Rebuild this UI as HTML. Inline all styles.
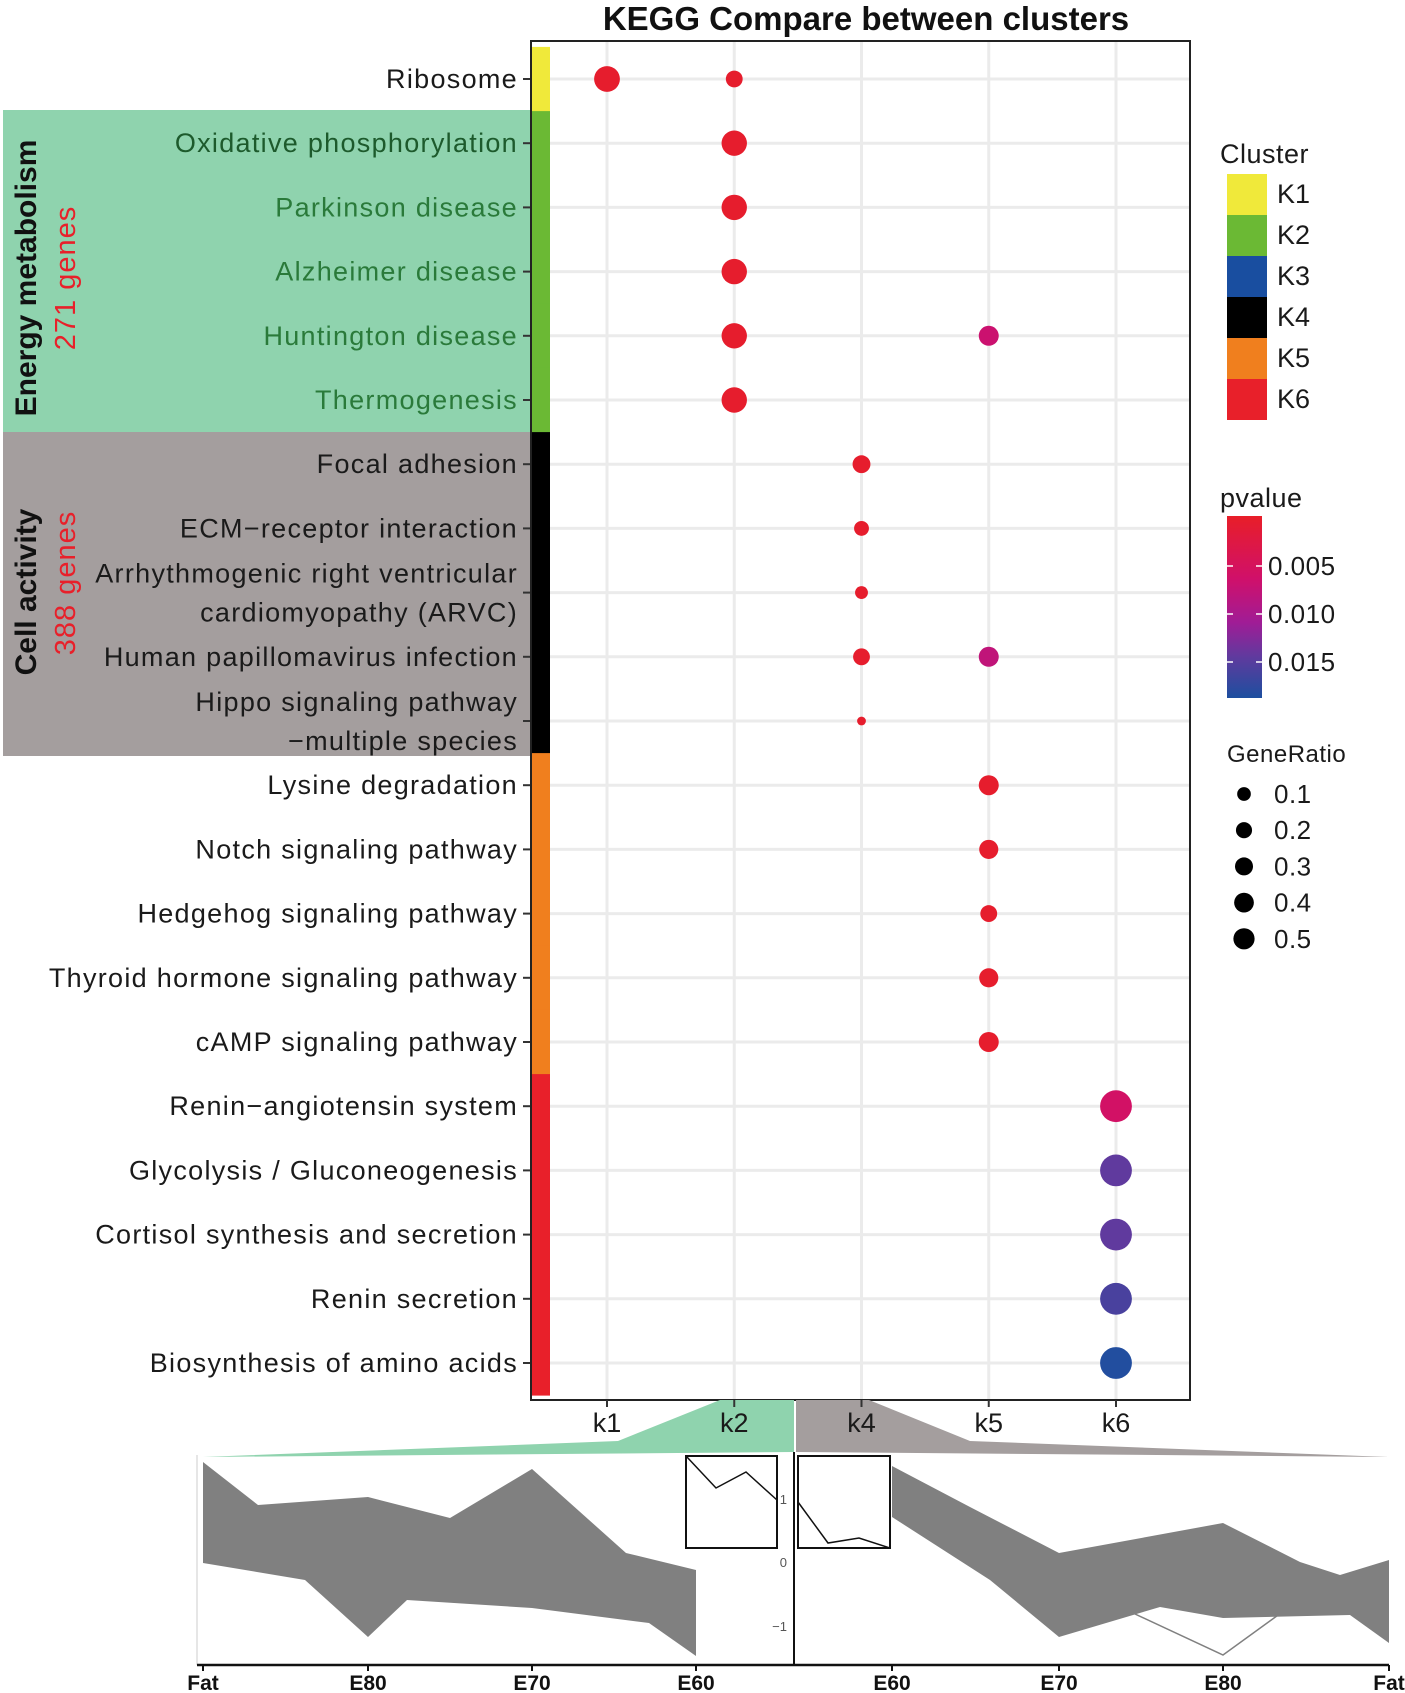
<!DOCTYPE html>
<html><head><meta charset="utf-8"><style>
html,body{margin:0;padding:0;background:#fff}
svg{display:block;font-family:"Liberation Sans","DejaVu Sans",sans-serif}
</style></head><body>
<svg id="c" width="1405" height="1693" viewBox="0 0 1405 1693">
<rect x="3" y="110" width="528" height="322" fill="#8fd3ae"/>
<rect x="3" y="432" width="528" height="324" fill="#a49e9e"/>
<text transform="translate(36,278) rotate(-90)" text-anchor="middle" font-size="30" font-weight="bold" fill="#111">Energy metabolism</text>
<text transform="translate(75,278) rotate(-90)" text-anchor="middle" font-size="29" letter-spacing="1" fill="#e8202a">271 genes</text>
<text transform="translate(36,592) rotate(-90)" text-anchor="middle" font-size="30" font-weight="bold" fill="#111">Cell activity</text>
<text transform="translate(75,583) rotate(-90)" text-anchor="middle" font-size="29" letter-spacing="1" fill="#e8202a">388 genes</text>
<text x="866" y="30" text-anchor="middle" font-size="33" font-weight="bold" fill="#111">KEGG Compare between clusters</text>
<g id="grid"></g><g id="strip"></g><g id="dots"></g><g id="ylabels"></g>
<rect x="531" y="41" width="659" height="1359" fill="none" stroke="#222" stroke-width="2"/>
<g id="legend"></g>
<g id="bottom"></g>
<g id="xlabels"></g>
</svg>
<script>
const NS="http://www.w3.org/2000/svg";
function mk(tag,attrs,parent,txt){const e=document.createElementNS(NS,tag);for(const k in attrs)e.setAttribute(k,attrs[k]);if(txt!==undefined)e.textContent=txt;parent.appendChild(e);return e;}
const pathways=["Ribosome","Oxidative phosphorylation","Parkinson disease","Alzheimer disease","Huntington disease","Thermogenesis","Focal adhesion","ECM\u2212receptor interaction","Arrhythmogenic right ventricular|cardiomyopathy (ARVC)","Human papillomavirus infection","Hippo signaling pathway|\u2212multiple species","Lysine degradation","Notch signaling pathway","Hedgehog signaling pathway","Thyroid hormone signaling pathway","cAMP signaling pathway","Renin\u2212angiotensin system","Glycolysis / Gluconeogenesis","Cortisol synthesis and secretion","Renin secretion","Biosynthesis of amino acids"];
const rowCluster=[0,1,1,1,1,1,3,3,3,3,3,4,4,4,4,4,5,5,5,5,5];
const columns=["k1","k2","k4","k5","k6"];
const dotRow=[0,0,1,2,3,4,4,5,6,7,8,9,9,10,11,12,13,14,15,16,17,18,19,20];
const dotCol=[0,1,1,1,1,1,3,1,2,2,2,2,3,2,3,3,3,3,3,4,4,4,4,4];
const dotRatio=[0.5,0.15,0.48,0.48,0.48,0.48,0.25,0.48,0.18,0.1,0.06,0.15,0.25,0.01,0.25,0.22,0.15,0.22,0.25,0.85,0.85,0.85,0.85,0.85];
const dotP=[0.0005,0.0005,0.0005,0.0005,0.0005,0.0005,0.007,0.0005,0.0005,0.0005,0.0005,0.0005,0.008,0.0005,0.0005,0.0005,0.0005,0.0005,0.0005,0.006,0.0145,0.0145,0.016,0.0185];
const clusterNames=["K1","K2","K3","K4","K5","K6"];
const clusterColors=["#f0e93a","#6bb934","#194ea0","#000000","#f07f1e","#e8202a"];
const pTicks=[0.005,0.010,0.015];
const ratioTicks=[0.1,0.2,0.3,0.4,0.5];
const yPos=i=>79+64.2*i;
const xPos=j=>607+(1116-607)/4*j;
const rScale=r=>3+14*Math.sqrt(r);
const pY=p=>518+p/0.005*48;
const stops=[[0,[232,30,40]],[0.0065,[208,16,106]],[0.011,[160,28,150]],[0.0145,[96,58,158]],[0.0188,[29,79,159]]];
function pColor(p){for(let i=1;i<stops.length;i++){if(p<=stops[i][0]){const a=stops[i-1],b=stops[i],t=(p-a[0])/(b[0]-a[0]);return "rgb("+a[1].map((v,k)=>Math.round(v+(b[1][k]-v)*t)).join(",")+")";}}return "rgb(29,79,159)";}
const grid=document.getElementById('grid');
pathways.forEach((p,i)=>{const l=mk('line',{x1:531,x2:1190,y1:yPos(i),y2:yPos(i),stroke:'#ebebeb','stroke-width':3},grid);

});
columns.forEach((c,j)=>{const l=mk('line',{x1:xPos(j),x2:xPos(j),y1:41,y2:1400,stroke:'#ebebeb','stroke-width':3},grid);

});
const strip=document.getElementById('strip');
pathways.forEach((p,i)=>{const r=mk('rect',{x:531,y:yPos(i)-32.1,width:19,height:64.7,fill:clusterColors[rowCluster[i]]},strip);

});
const yl=document.getElementById('ylabels');
pathways.forEach((p,i)=>{const y=yPos(i);const col=(i>=1&&i<=5)?(i==1?'#1d5a2c':'#2a7a3a'):'#1a1a1a';
const t=p.split('|');
if(t.length==1){const e=mk('text',{x:518,y:y+9,'text-anchor':'end','font-size':27,'letter-spacing':1.3,fill:col},yl,p);

}
else{t.forEach((s,k)=>{const e=mk('text',{x:518,y:y-10+k*39,'text-anchor':'end','font-size':27,'letter-spacing':1.3,fill:col},yl,s);

});}
const tk=mk('line',{x1:523,x2:531,y1:y,y2:y,stroke:'#333','stroke-width':2},yl);

});
const dg=document.getElementById('dots');
dotRow.forEach((r,k)=>{const c=mk('circle',{cx:xPos(dotCol[k]),cy:yPos(r),r:rScale(dotRatio[k]),fill:pColor(dotP[k])},dg);

});
const lg=document.getElementById('legend');
let e=mk('text',{x:1220,y:163,'font-size':27,'letter-spacing':0.5,fill:'#1a1a1a'},lg,'Cluster');


clusterNames.forEach((n,i)=>{const r=mk('rect',{x:1227,y:174+i*41,width:40,height:41,fill:clusterColors[i]},lg);


const t=mk('text',{x:1277,y:203+i*41,'font-size':27,fill:'#1a1a1a'},lg,n);

});
e=mk('text',{x:1220,y:507,'font-size':27,'letter-spacing':0.5,fill:'#1a1a1a'},lg,'pvalue');


const defs=mk('defs',{},lg);const gr=mk('linearGradient',{id:'pg',x1:0,y1:0,x2:0,y2:1},defs);
stops.forEach(s=>mk('stop',{offset:(s[0]/0.0188*100)+'%','stop-color':'rgb('+s[1].join(',')+')'},gr));
e=mk('rect',{x:1227,y:516,width:35,height:182,fill:'url(#pg)'},lg);


pTicks.forEach(p=>{const y=pY(p);mk('line',{x1:1227,x2:1233,y1:y,y2:y,stroke:'#fff','stroke-width':1.5},lg);mk('line',{x1:1256,x2:1262,y1:y,y2:y,stroke:'#fff','stroke-width':1.5},lg);
const t=mk('text',{x:1268,y:y+9,'font-size':26,'letter-spacing':0.5,fill:'#1a1a1a'},lg,p.toFixed(3));

});
e=mk('text',{x:1227,y:762,'font-size':24,'letter-spacing':0.5,fill:'#1a1a1a'},lg,'GeneRatio');


ratioTicks.forEach((r,i)=>{const y=794+i*36.2;const c=mk('circle',{cx:1244,cy:y,r:rScale(r*0.55+0.02),fill:'#000'},lg);


const t=mk('text',{x:1274,y:y+9,'font-size':26,'letter-spacing':0.5,fill:'#1a1a1a'},lg,r.toFixed(1));

});
const bt=document.getElementById('bottom');
e=mk('polygon',{points:'720,1400 794,1400 794,1452 203,1457 618,1441',fill:'#8fd3ae'},bt);


e=mk('polygon',{points:'796,1400 869,1400 970,1441 1389,1457 796,1452',fill:'#a49e9e'},bt);


e=mk('polygon',{points:'203,1462 258,1505 368,1497 450,1518 532,1469 626,1553 696,1570 696,1656 649,1623 532,1608 407,1600 368,1637 305,1580 203,1563',fill:'#808080'},bt);


e=mk('polygon',{points:'892,1466 970,1507 1059,1553 1223,1523 1300,1562 1340,1575 1389,1560 1389,1643 1350,1615 1223,1618 1160,1607 1059,1637 990,1580 892,1517',fill:'#808080'},bt);


mk('polyline',{points:'1120,1607 1223,1655 1285,1610',fill:'none',stroke:'#808080','stroke-width':1.5},bt);
mk('line',{x1:197,y1:1455,x2:197,y2:1665,stroke:'#ccc','stroke-width':1},bt);
e=mk('line',{x1:197,y1:1665,x2:1389,y2:1665,stroke:'#111','stroke-width':2.5},bt);


e=mk('line',{x1:794,y1:1452,x2:794,y2:1665,stroke:'#111','stroke-width':2},bt);


[['1',1504],['0',1567],['\u22121',1631]].forEach(a=>{const t=mk('text',{x:787,y:a[1],'text-anchor':'end','font-size':13,fill:'#555'},bt,a[0]);

});
const timeLabels=['Fat','E80','E70','E60','E60','E70','E80','Fat'];
const timeX=[203,368,532,696,892,1059,1223,1389];
timeLabels.forEach((s,i)=>{const t=mk('text',{x:timeX[i],y:1690,'text-anchor':'middle','font-size':21,'font-weight':'bold',fill:'#111'},bt,s);


mk('line',{x1:timeX[i],x2:timeX[i],y1:1665,y2:1671,stroke:'#111','stroke-width':2},bt);});
e=mk('rect',{x:686,y:1456,width:91,height:92,fill:'#fff',stroke:'#111','stroke-width':2},bt);


mk('polyline',{points:'686,1456 716,1488 746,1472 777,1500',fill:'none',stroke:'#111','stroke-width':1.5},bt);
e=mk('rect',{x:798,y:1456,width:92,height:92,fill:'#fff',stroke:'#111','stroke-width':2},bt);


mk('polyline',{points:'798,1502 828,1543 859,1538 890,1548',fill:'none',stroke:'#111','stroke-width':1.5},bt);
const xl=document.getElementById('xlabels');
columns.forEach((c,j)=>{const tk=mk('line',{x1:xPos(j),x2:xPos(j),y1:1400,y2:1407,stroke:'#333','stroke-width':2},xl);


const e=mk('text',{x:xPos(j),y:1432,'text-anchor':'middle','font-size':27,fill:'#1a1a1a'},xl,c);

});
</script>
</body></html>
